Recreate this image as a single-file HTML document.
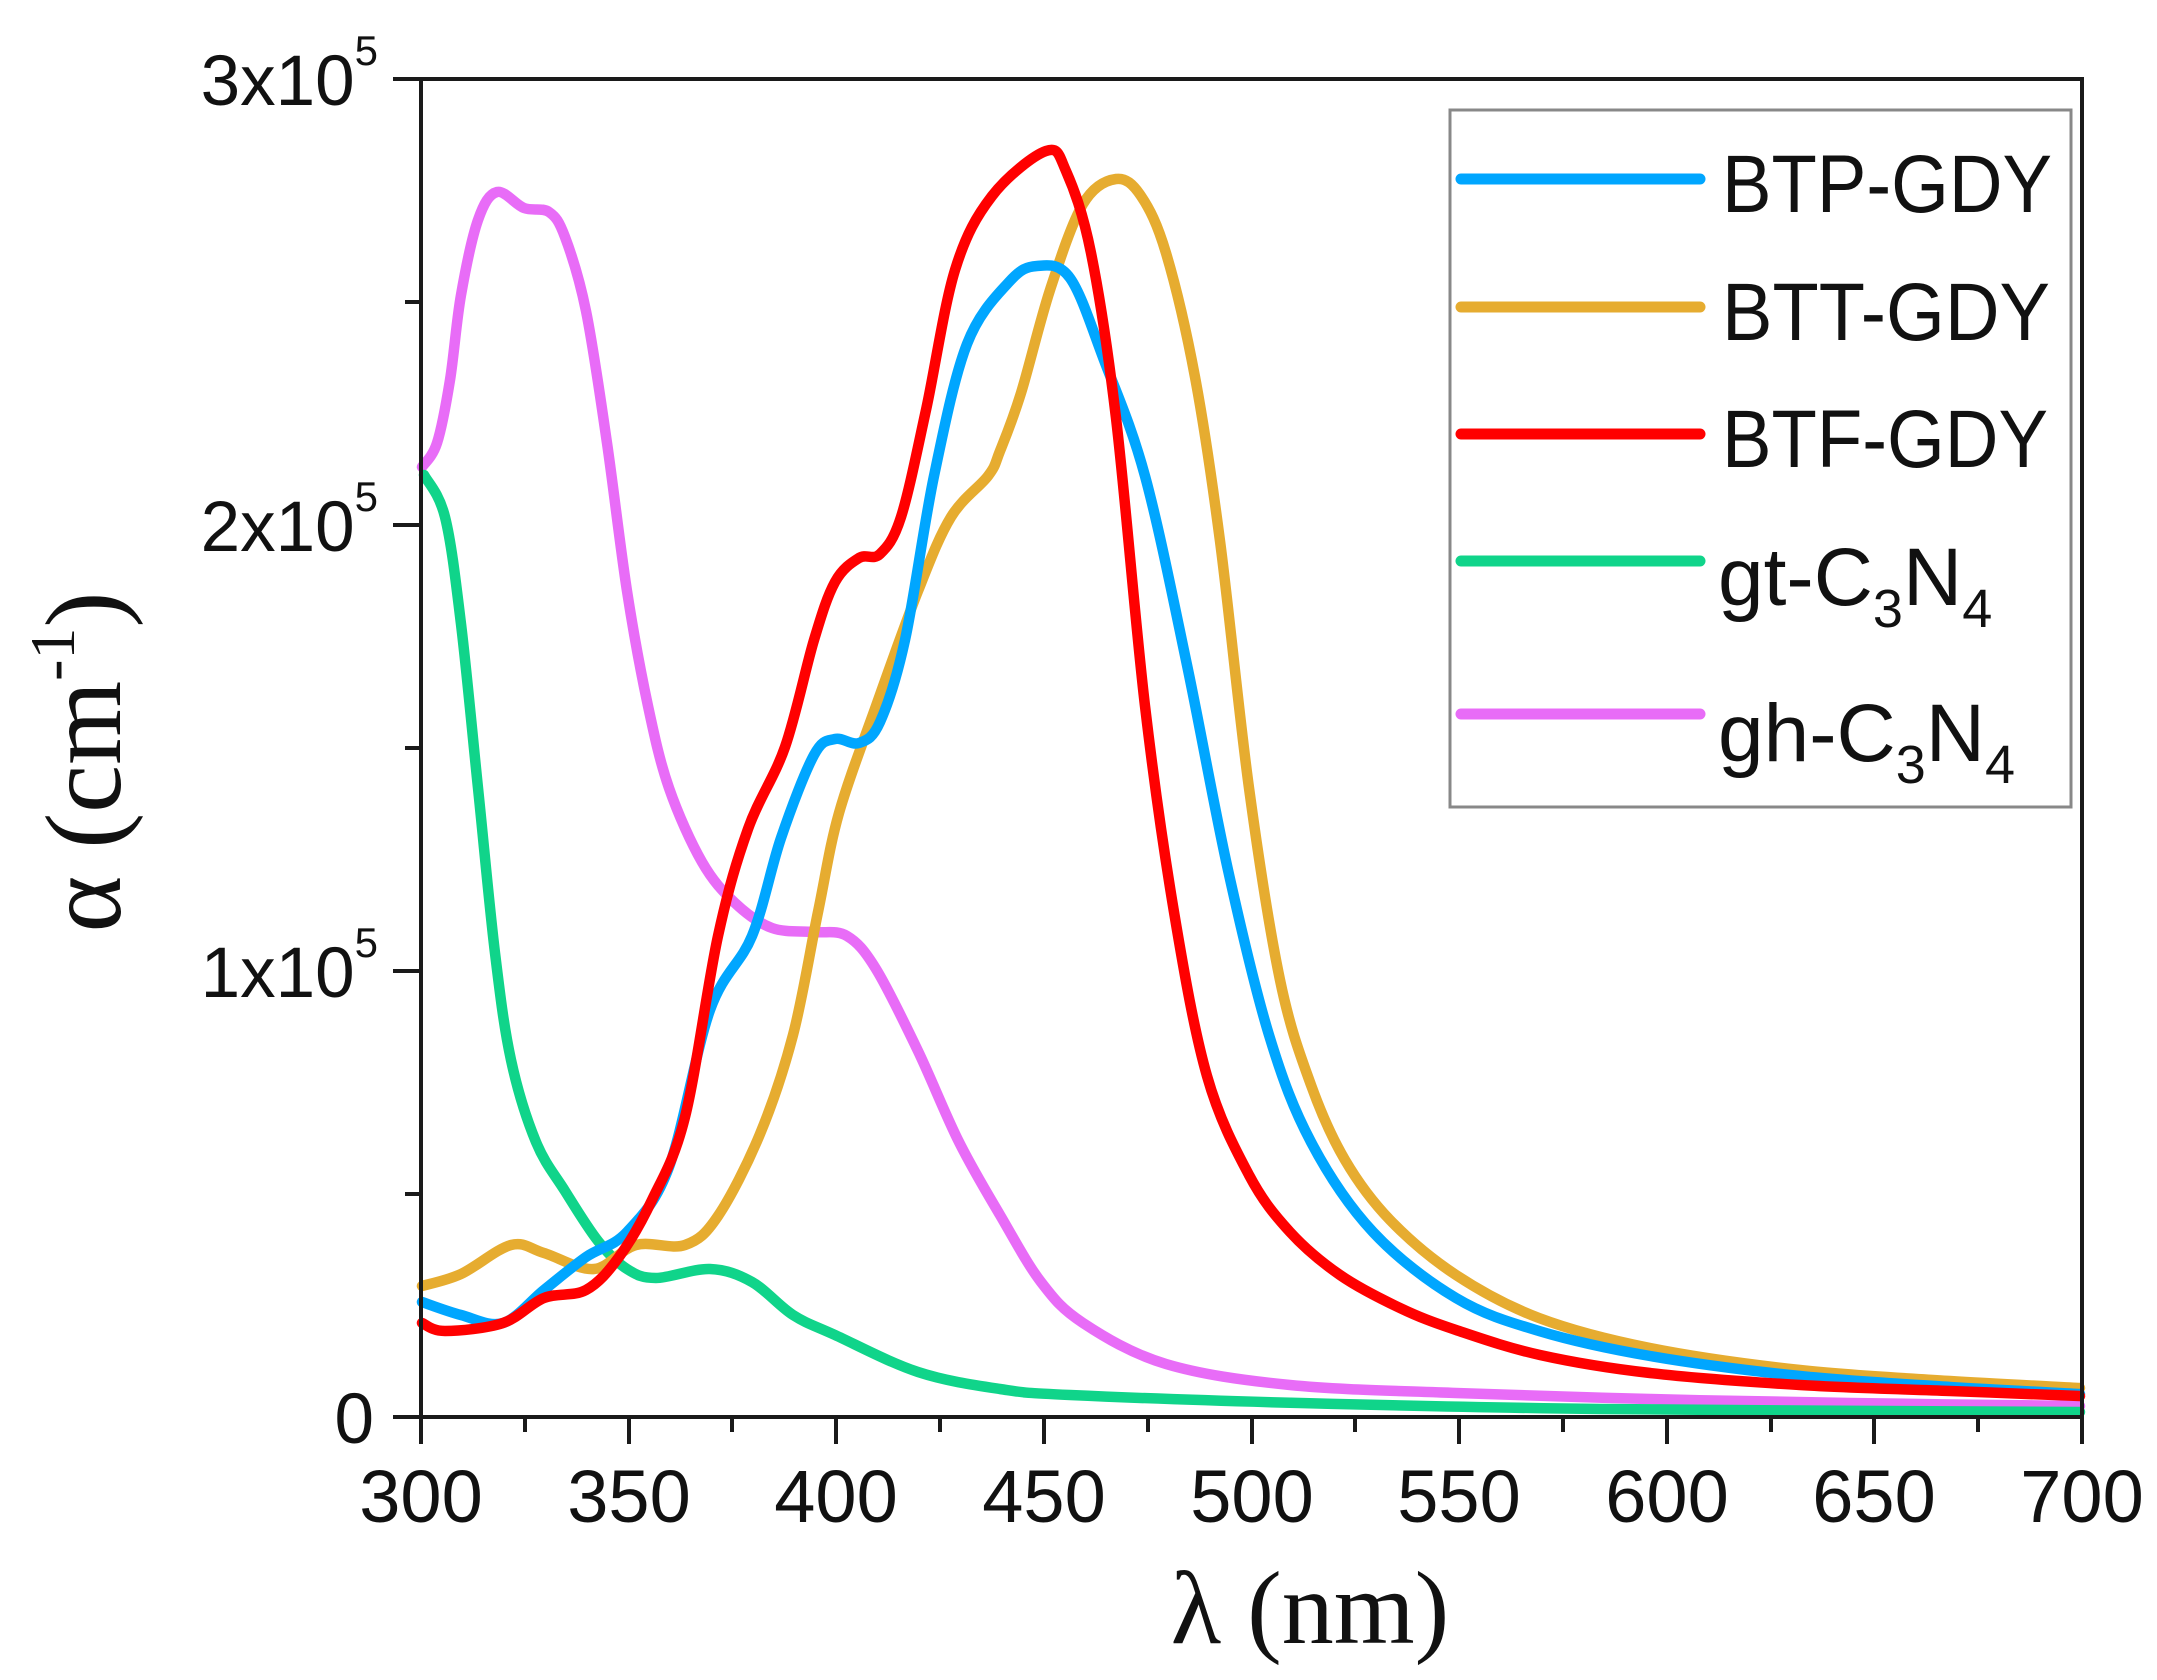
<!DOCTYPE html>
<html><head><meta charset="utf-8"><style>html,body{margin:0;padding:0;background:#fff}svg{display:block}</style></head>
<body>
<svg id="s" width="2157" height="1680" viewBox="0 0 2157 1680" xmlns="http://www.w3.org/2000/svg">
<rect width="2157" height="1680" fill="#fff"/>
<g id="curves" fill="none" stroke-width="10.5" stroke-linejoin="round" stroke-linecap="round">
<polyline stroke="#e86cf7" points="422,467 437,443 450,380 461,295 478,220 497,192 524,208 549,212 565,237 586,311 607,443 627,591 648,706 669,788 702,862 735,903 772,928 814,932 847,936 876,969 918,1051 959,1142 1000,1215 1041,1282 1083,1323 1166,1364 1290,1385 1456,1393 1650,1399 1850,1403 2080,1406"/>
<polyline stroke="#10d48a" points="424,475 445,517 461,624 478,788 495,953 511,1060 536,1142 565,1191 598,1241 627,1269 656,1278 710,1269 752,1282 793,1315 835,1335 918,1372 1000,1389 1070,1395 1300,1403 1600,1409 2080,1412"/>
<polyline stroke="#e6ac30" points="422,1286 461,1274 511,1245 544,1253 594,1269 636,1245 685,1245 718,1216 760,1134 793,1035 818,912 839,813 876,706 918,591 951,517 988,476 1000,451 1021,393 1050,290 1083,204 1116,179 1141,196 1166,253 1195,377 1220,541 1249,788 1280,980 1311,1085 1345,1160 1390,1220 1456,1275 1539,1318 1650,1348 1800,1370 1950,1381 2080,1388"/>
<polyline stroke="#00a6ff" points="422,1302 461,1315 503,1323 544,1290 586,1257 627,1232 669,1167 710,1010 752,936 781,838 814,755 835,739 859,743 880,722 905,640 934,476 967,344 1009,282 1037,266 1070,278 1104,360 1145,476 1187,665 1228,870 1269,1035 1311,1142 1373,1232 1456,1298 1539,1331 1650,1356 1800,1376 1950,1387 2080,1394"/>
<polyline stroke="#ff0000" points="422,1323 445,1331 503,1323 544,1298 586,1290 619,1257 652,1200 685,1117 718,936 748,829 785,747 814,640 835,582 859,558 880,554 901,517 926,410 955,270 992,196 1046,151 1066,171 1091,253 1116,418 1145,706 1174,912 1207,1076 1249,1175 1290,1232 1340,1275 1400,1308 1456,1330 1540,1355 1650,1373 1800,1385 1950,1391 2080,1396"/>
</g>
<g stroke="#1a1a1a" stroke-width="4" fill="none">
<rect x="421" y="79" width="1661" height="1338"/>
<line x1="393" y1="79" x2="421" y2="79"/>
<line x1="393" y1="525" x2="421" y2="525"/>
<line x1="393" y1="971" x2="421" y2="971"/>
<line x1="393" y1="1417" x2="421" y2="1417"/>
<line x1="405" y1="302" x2="421" y2="302"/>
<line x1="405" y1="748" x2="421" y2="748"/>
<line x1="405" y1="1194" x2="421" y2="1194"/>
<line x1="421" y1="1417" x2="421" y2="1444"/>
<line x1="629" y1="1417" x2="629" y2="1444"/>
<line x1="836" y1="1417" x2="836" y2="1444"/>
<line x1="1044" y1="1417" x2="1044" y2="1444"/>
<line x1="1252" y1="1417" x2="1252" y2="1444"/>
<line x1="1459" y1="1417" x2="1459" y2="1444"/>
<line x1="1667" y1="1417" x2="1667" y2="1444"/>
<line x1="1874" y1="1417" x2="1874" y2="1444"/>
<line x1="2082" y1="1417" x2="2082" y2="1444"/>
<line x1="525" y1="1417" x2="525" y2="1432"/>
<line x1="732" y1="1417" x2="732" y2="1432"/>
<line x1="940" y1="1417" x2="940" y2="1432"/>
<line x1="1148" y1="1417" x2="1148" y2="1432"/>
<line x1="1355" y1="1417" x2="1355" y2="1432"/>
<line x1="1563" y1="1417" x2="1563" y2="1432"/>
<line x1="1771" y1="1417" x2="1771" y2="1432"/>
<line x1="1978" y1="1417" x2="1978" y2="1432"/>
</g>
<g font-family="Liberation Sans, Arial, sans-serif" font-size="71" fill="#111" text-anchor="end">
<text x="378" y="105">3x10<tspan font-size="42" dy="-40">5</tspan></text>
<text x="378" y="551">2x10<tspan font-size="42" dy="-40">5</tspan></text>
<text x="378" y="997">1x10<tspan font-size="42" dy="-40">5</tspan></text>
<text x="374" y="1443">0</text>
</g>
<g font-family="Liberation Sans, Arial, sans-serif" font-size="74" fill="#111" text-anchor="middle">
<text x="421" y="1522">300</text>
<text x="629" y="1522">350</text>
<text x="836" y="1522">400</text>
<text x="1044" y="1522">450</text>
<text x="1252" y="1522">500</text>
<text x="1459" y="1522">550</text>
<text x="1667" y="1522">600</text>
<text x="1874" y="1522">650</text>
<text x="2082" y="1522">700</text>
</g>
<text x="1310" y="1643" font-family="Liberation Serif, Times New Roman, serif" font-size="104" fill="#111" text-anchor="middle">λ (nm)</text>
<text transform="translate(120,762) rotate(-90)" font-family="Liberation Serif, Times New Roman, serif" font-size="108" fill="#111" text-anchor="middle">α (cm<tspan font-size="64" dy="-46">-1</tspan><tspan dy="46">)</tspan></text>
<rect x="1450" y="110" width="621" height="697" fill="#fff" stroke="#888" stroke-width="3"/>
<g stroke-width="11" stroke-linecap="round">
<line x1="1461" y1="179" x2="1700" y2="179" stroke="#00a6ff"/>
<line x1="1461" y1="307" x2="1700" y2="307" stroke="#e6ac30"/>
<line x1="1461" y1="434" x2="1700" y2="434" stroke="#ff0000"/>
<line x1="1461" y1="561" x2="1700" y2="561" stroke="#10d48a"/>
<line x1="1461" y1="714" x2="1700" y2="714" stroke="#e86cf7"/>
</g>
<g font-family="Liberation Sans, Arial, sans-serif" font-size="82" fill="#111">
<text x="1722" y="212" textLength="330" lengthAdjust="spacingAndGlyphs">BTP-GDY</text>
<text x="1722" y="340" textLength="328" lengthAdjust="spacingAndGlyphs">BTT-GDY</text>
<text x="1722" y="467" textLength="326" lengthAdjust="spacingAndGlyphs">BTF-GDY</text>
<text x="1718" y="605">gt-C<tspan font-size="54" dy="22">3</tspan><tspan dy="-22">N</tspan><tspan font-size="54" dy="22">4</tspan></text>
<text x="1718" y="761">gh-C<tspan font-size="54" dy="22">3</tspan><tspan dy="-22">N</tspan><tspan font-size="54" dy="22">4</tspan></text>
</g>
</svg>
<script>
(function(){
var ns="http://www.w3.org/2000/svg";
var pls=document.querySelectorAll('#curves polyline');
for(var i=0;i<pls.length;i++){
 var pl=pls[i];
 var a=pl.getAttribute('points').trim().split(/\s+/).map(function(s){var q=s.split(',');return [+q[0],+q[1]];});
 var d='M'+a[0][0]+','+a[0][1];
 for(var j=0;j<a.length-1;j++){
  var p0=a[j-1]||a[j],p1=a[j],p2=a[j+1],p3=a[j+2]||a[j+1];
  var c1x=p1[0]+(p2[0]-p0[0])/6,c1y=p1[1]+(p2[1]-p0[1])/6;
  var c2x=p2[0]-(p3[0]-p1[0])/6,c2y=p2[1]-(p3[1]-p1[1])/6;
  d+=' C'+c1x.toFixed(1)+','+c1y.toFixed(1)+' '+c2x.toFixed(1)+','+c2y.toFixed(1)+' '+p2[0]+','+p2[1];
 }
 var p=document.createElementNS(ns,'path');
 p.setAttribute('d',d);p.setAttribute('stroke',pl.getAttribute('stroke'));
 pl.parentNode.replaceChild(p,pl);
}
})();
</script>
</body></html>
